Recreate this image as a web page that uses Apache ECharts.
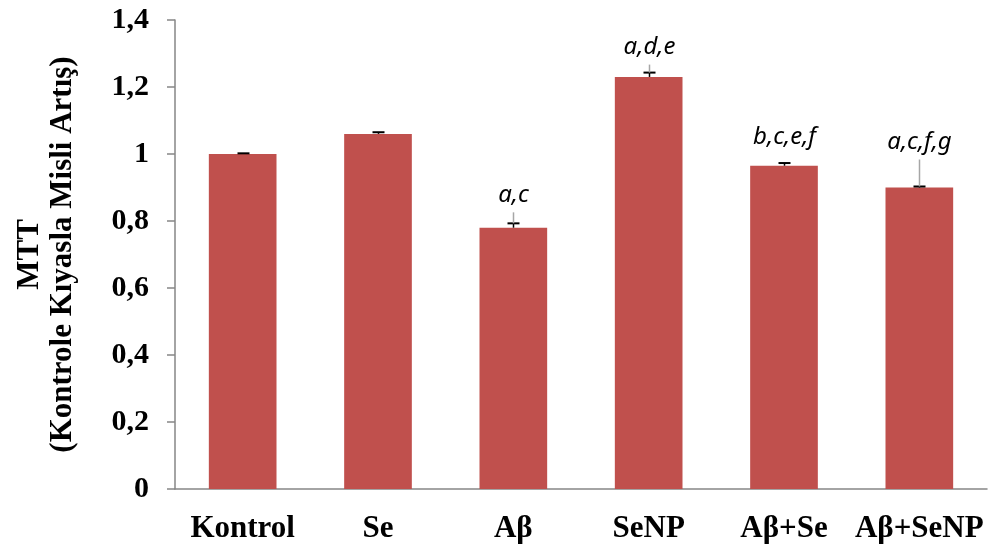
<!DOCTYPE html>
<html>
<head>
<meta charset="utf-8">
<script src="https://cdn.jsdelivr.net/npm/echarts@6/dist/echarts.min.js"></script>
<style>
  html, body { margin: 0; padding: 0; background: #fff; }
  #main { width: 989px; height: 552px; }
</style>
</head>
<body>
<div id="main"></div>
<script>
// 数据
var groups = ['Kontrol', 'Se', 'Aβ', 'SeNP', 'Aβ+Se', 'Aβ+SeNP'];
var values = [1.0, 1.06, 0.78, 1.23, 0.965, 0.90];
var errors = [0.002, 0.005, 0.013, 0.013, 0.008, 0.003];
var letters = ['', '', 'a,c', 'a,d,e', 'b,c,e,f', 'a,c,f,g'];
var yTicks = [0, 0.2, 0.4, 0.6, 0.8, 1, 1.2, 1.4];

// 标注文字离误差线顶端的距离（像素），以及是否画灰色引线
var labelLift = [0, 0, 28, 25, 26, 44];
var showLeader = [false, false, true, true, false, true];

var serif = '"Liberation Serif", "Times New Roman", serif';

var errData = [];
for (var i = 0; i < groups.length; i++) {
    errData.push([i, values[i], errors[i]]);
}

function renderErr(params, api) {
    var idx = api.value(0);
    var v = api.value(1);
    var e = api.value(2);
    var base = api.coord([idx, v]);
    var top = api.coord([idx, v + e]);
    var x = Math.round(base[0]) + 0.5;
    var children = [
        { type: 'line', shape: { x1: x, y1: base[1], x2: x, y2: top[1] },
          style: { stroke: '#000', lineWidth: 1.5 } },
        { type: 'line', shape: { x1: x - 6, y1: top[1], x2: x + 6, y2: top[1] },
          style: { stroke: '#000', lineWidth: 2 } }
    ];
    var txt = letters[idx];
    if (txt) {
        var ly = top[1] - labelLift[idx];
        if (showLeader[idx]) {
            children.push({ type: 'line', shape: { x1: x, y1: ly + 17, x2: x, y2: top[1] },
                style: { stroke: '#a6a6a6', lineWidth: 1.5 } });
        }
        children.push({ type: 'text', x: x, y: ly,
            style: { text: txt, fill: '#000', font: 'italic 24px "Noto Sans"',
                     align: 'center', verticalAlign: 'middle' } });
    }
    return { type: 'group', children: children };
}

var myChart = echarts.init(document.getElementById('main'));
var option = {
    animation: false,
    grid: { left: 175, right: 2, top: 20, bottom: 63 },
    xAxis: {
        type: 'category',
        data: groups,
        axisLine: { lineStyle: { color: '#868686', width: 1.5 } },
        axisTick: { show: false },
        axisLabel: { color: '#000', fontFamily: serif, fontWeight: 'bold', fontSize: 31, margin: 24, interval: 0 }
    },
    yAxis: {
        type: 'value',
        min: 0,
        max: 1.4,
        interval: 0.2,
        name: 'MTT\n(Kontrole Kıyasla Misli Artış)',
        nameLocation: 'middle',
        nameGap: 96,
        nameTextStyle: { color: '#000', fontFamily: serif, fontWeight: 'bold', fontSize: 31, lineHeight: 33 },
        axisLine: { show: true, lineStyle: { color: '#868686', width: 1.5 } },
        axisTick: { show: true, length: 8, lineStyle: { color: '#868686', width: 1.5 } },
        splitLine: { show: false },
        axisLabel: {
            color: '#000', fontFamily: serif, fontWeight: 'bold', fontSize: 30, margin: 26,
            formatter: function (v) {
                var t = yTicks.find(function (k) { return Math.abs(k - v) < 1e-6; });
                return String(t === undefined ? v : t).replace('.', ',');
            }
        }
    },
    series: [
        {
            type: 'bar',
            data: values,
            barWidth: '50%',
            itemStyle: { color: '#C0504D' },
            z: 2
        },
        {
            type: 'custom',
            data: errData,
            encode: { x: 0, y: 1 },
            renderItem: renderErr,
            z: 5
        }
    ]
};
myChart.setOption(option, true);
</script>
</body>
</html>
